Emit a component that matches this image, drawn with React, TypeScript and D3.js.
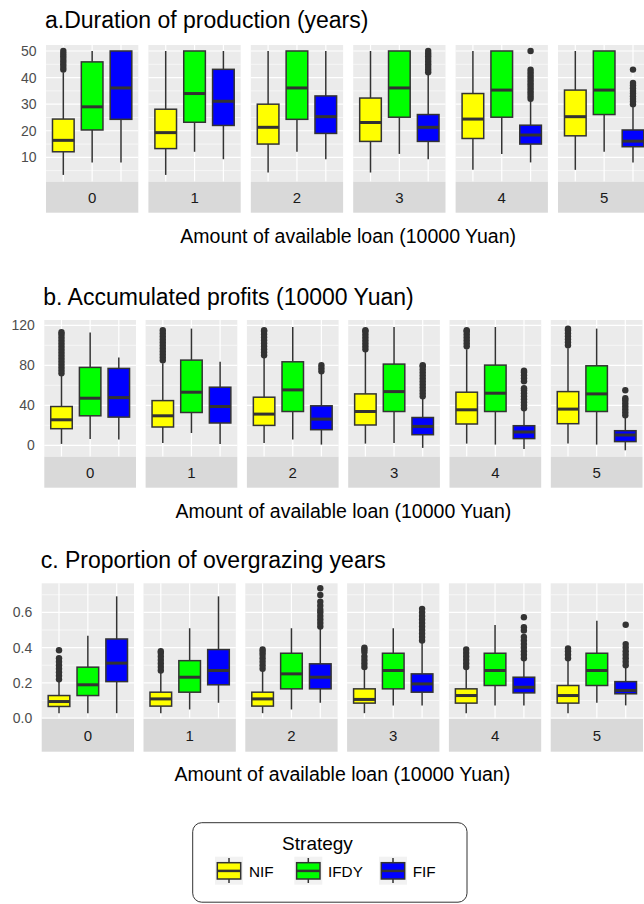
import React from 'react';
import * as d3 from 'd3';

// ---------------- data ----------------
const loans = ['0', '1', '2', '3', '4', '5'];
const strategies = ['NIF', 'IFDY', 'FIF'];
const strategyColors = ['#FFFF00', '#00FF00', '#0000FF'];

// each entry: [lower whisker, Q1, median, Q3, upper whisker]
const durationNIF = [
  [3.4, 12.1, 16.4, 24.4, 42], [3.4, 13.3, 19.3, 28.1, 50], [4.3, 15.0, 21.3, 30.0, 50],
  [4.3, 16.0, 23.1, 32.3, 50], [5.3, 17.1, 24.4, 34.0, 50], [5.3, 18.1, 25.3, 35.3, 50],
];
const durationIFDY = [
  [8.1, 20.3, 29.0, 45.9, 50], [12.1, 23.2, 34.0, 50, 50], [12.1, 24.3, 36.1, 50, 50],
  [11.3, 25.1, 36.1, 50, 50], [11.3, 25.1, 35.3, 50, 50], [12.1, 26.1, 35.3, 50, 50],
];
const durationFIF = [
  [8.1, 24.3, 36.1, 50, 50], [9.3, 22.0, 31.1, 43.1, 50], [9.3, 19.0, 25.3, 33.1, 50],
  [9.3, 16.0, 21.3, 26.1, 41], [8.1, 15.0, 18.4, 22.1, 31.5], [8.1, 14.0, 16.1, 20.3, 29],
];
const durationNIFOut = [[43, 44, 45, 46, 47, 48, 49, 50], [], [], [], [], []];
const durationIFDYOut = [[], [], [], [], [], []];
const durationFIFOut = [
  [], [], [],
  [42, 43, 44, 45, 46, 47, 48, 49, 50],
  [32, 33, 34, 35, 36, 37, 38, 39, 40, 41, 42, 43, 50],
  [30, 31, 32, 33, 34, 35, 36, 37, 38, 43],
];

const profitNIF = [
  [1.4, 16.6, 25.5, 38.8, 70], [2.4, 18.3, 29.5, 44.7, 82], [2.4, 19.9, 31.2, 48.1, 88],
  [1.7, 20.3, 33.8, 51.4, 94], [1.7, 21.3, 35.5, 53.1, 96], [1.7, 21.6, 36.2, 53.7, 97],
];
const profitIFDY = [
  [6.4, 29.5, 47.1, 77.9, 112.7], [12.3, 32.8, 53.1, 85.2, 116.7], [5.7, 33.8, 55.4, 83.5, 118.3],
  [2.4, 33.8, 53.7, 81.2, 118.3], [0.7, 33.8, 52.1, 80.2, 118.3], [0.7, 33.8, 51.4, 79.5, 116.7],
];
const profitFIF = [
  [5.7, 28.2, 47.7, 76.9, 87.9], [1.4, 22.3, 38.8, 58.1, 83.5], [0.7, 15.6, 26.2, 39.5, 72],
  [-2.6, 10.6, 18.9, 27.8, 47], [-3.6, 6.7, 13.3, 19.6, 35.5], [-5.0, 3.7, 10.3, 14.6, 28.8],
];
const profitNIFOut = [
  [72, 75, 78, 81, 84, 87, 90, 93, 96, 99, 102, 105, 108, 111, 113],
  [85, 88, 91, 94, 97, 100, 103, 106, 109, 112, 115],
  [90, 93, 96, 99, 102, 105, 108, 111, 114, 115],
  [96, 99, 102, 105, 108, 111, 114, 115],
  [99, 102, 105, 108, 111, 114, 115],
  [100, 103, 106, 109, 112, 115, 116.5],
];
const profitIFDYOut = [[], [], [], [], [], []];
const profitFIFOut = [
  [], [],
  [74, 77, 80],
  [49, 52, 55, 58, 61, 64, 67, 70, 73, 76, 79, 80],
  [37, 40, 43, 46, 49, 52, 55, 57, 64, 67, 70, 73, 74.5],
  [30, 33, 36, 39, 42, 45, 47, 55],
];

const propNIF = [
  [0.028, 0.066, 0.094, 0.128, 0.212], [0.028, 0.068, 0.109, 0.147, 0.26], [0.028, 0.068, 0.109, 0.147, 0.27],
  [0.028, 0.085, 0.106, 0.166, 0.285], [0.028, 0.085, 0.128, 0.166, 0.28], [0.028, 0.085, 0.128, 0.185, 0.33],
];
const propIFDY = [
  [0.028, 0.128, 0.189, 0.289, 0.468], [0.049, 0.147, 0.232, 0.326, 0.51], [0.049, 0.166, 0.251, 0.368, 0.51],
  [0.072, 0.166, 0.27, 0.368, 0.51], [0.072, 0.185, 0.27, 0.368, 0.529], [0.087, 0.185, 0.27, 0.368, 0.553],
];
const propFIF = [
  [0.028, 0.207, 0.312, 0.449, 0.691], [0.087, 0.189, 0.27, 0.389, 0.691], [0.087, 0.166, 0.232, 0.308, 0.516],
  [0.072, 0.147, 0.194, 0.251, 0.434], [0.072, 0.143, 0.175, 0.232, 0.336], [0.072, 0.138, 0.157, 0.207, 0.295],
];
const propNIFOut = [
  [0.22, 0.24, 0.26, 0.28, 0.30, 0.32, 0.34, 0.385],
  [0.27, 0.29, 0.31, 0.33, 0.35, 0.37, 0.38],
  [0.28, 0.30, 0.32, 0.34, 0.36, 0.375, 0.39],
  [0.29, 0.31, 0.33, 0.35, 0.375, 0.39, 0.40],
  [0.29, 0.31, 0.33, 0.35, 0.37, 0.39],
  [0.34, 0.36, 0.38, 0.395],
];
const propIFDYOut = [[], [], [], [], [], []];
const propFIFOut = [
  [], [],
  [0.52, 0.54, 0.56, 0.58, 0.60, 0.615, 0.638, 0.661, 0.699, 0.737],
  [0.44, 0.46, 0.48, 0.50, 0.52, 0.54, 0.56, 0.58, 0.60, 0.62],
  [0.34, 0.36, 0.38, 0.40, 0.42, 0.44, 0.46, 0.497, 0.516, 0.572],
  [0.30, 0.32, 0.34, 0.36, 0.38, 0.40, 0.42, 0.53],
];

const durationTicks = [10, 20, 30, 40, 50];
const profitTicks = [0, 40, 80, 120];
const propTicks = [0.0, 0.2, 0.4, 0.6];
const propTickLabels = ['0.0', '0.2', '0.4', '0.6'];

const titles = ['a.Duration of production (years)', 'b. Accumulated profits (10000 Yuan)', 'c. Proportion of overgrazing years'];
const xAxisTitle = 'Amount of available loan (10000 Yuan)';
const legendTitle = 'Strategy';

// ---------------- layout ----------------
const W = 644;
const H = 904;
const FONT = '"Liberation Sans", Arial, Helvetica, sans-serif';

type Row = {
  title: string;
  stats: number[][][];
  outs: number[][][];
  ticks: number[];
  tickLabels: string[];
  domain: [number, number];
  left: number; panelW: number; step: number;
  top: number; bottom: number; stripBottom: number;
  titleY: number; axisTitleY: number;
};

const rows: Row[] = [
  {
    title: titles[0], stats: [durationNIF, durationIFDY, durationFIF], outs: [durationNIFOut, durationIFDYOut, durationFIFOut],
    ticks: durationTicks, tickLabels: durationTicks.map(String), domain: [0.85, 52.25],
    left: 46, panelW: 92.3, step: 102.4, top: 45, bottom: 181.7, stripBottom: 212.7, titleY: 28, axisTitleY: 243,
  },
  {
    title: titles[1], stats: [profitNIF, profitIFDY, profitFIF], outs: [profitNIFOut, profitIFDYOut, profitFIFOut],
    ticks: profitTicks, tickLabels: profitTicks.map(String), domain: [-11.4, 125.3],
    left: 44.3, panelW: 91.7, step: 101.3, top: 320, bottom: 456.7, stripBottom: 487.7, titleY: 305, axisTitleY: 518,
  },
  {
    title: titles[2], stats: [propNIF, propIFDY, propFIF], outs: [propNIFOut, propIFDYOut, propFIFOut],
    ticks: propTicks, tickLabels: propTickLabels, domain: [-0.004, 0.765],
    left: 41.7, panelW: 92.3, step: 101.8, top: 583.3, bottom: 718.8, stripBottom: 751.7, titleY: 568, axisTitleY: 781,
  },
];

const DARK = '#333333';

function Facet({ row }: { row: Row }) {
  const y = d3.scaleLinear().domain(row.domain).range([row.bottom, row.top]);
  const tickStep = row.ticks[1] - row.ticks[0];
  const minor: number[] = [];
  for (let k = -1; k < row.ticks.length; k++) {
    const v = row.ticks[0] + (k + 0.5) * tickStep;
    if (v > row.domain[0] && v < row.domain[1]) minor.push(v);
  }
  const plotW = row.panelW;
  const axisTitleX = row.left + (5 * row.step + row.panelW) / 2;
  return (
    <g>
      <text x={row.left - 1} y={row.titleY} fontFamily={FONT} fontSize={23} fill="#000">{row.title}</text>
      {loans.map((loan, li) => {
        const x0 = row.left + li * row.step;
        const x = d3.scalePoint<string>().domain(strategies).range([x0, x0 + plotW]).padding(0.6);
        const bw = x.step() * 0.75;
        return (
          <g key={loan}>
            <rect x={x0} y={row.top} width={plotW} height={row.bottom - row.top} fill="#EBEBEB" />
            {minor.map((v) => (
              <line key={'m' + v} x1={x0} x2={x0 + plotW} y1={y(v)} y2={y(v)} stroke="#fff" strokeWidth={0.6} />
            ))}
            {row.ticks.filter((v) => v >= row.domain[0]).map((v) => (
              <line key={'M' + v} x1={x0} x2={x0 + plotW} y1={y(v)} y2={y(v)} stroke="#fff" strokeWidth={1.2} />
            ))}
            {strategies.map((s) => (
              <line key={'v' + s} x1={x(s)!} x2={x(s)!} y1={row.top} y2={row.bottom} stroke="#fff" strokeWidth={1.2} />
            ))}
            {strategies.map((s, si) => {
              const st = row.stats[si][li];
              const cx = x(s)!;
              const outs = row.outs[si][li];
              return (
                <g key={s}>
                  <line x1={cx} x2={cx} y1={y(st[0])} y2={y(st[1])} stroke={DARK} strokeWidth={1.5} />
                  <line x1={cx} x2={cx} y1={y(st[3])} y2={y(st[4])} stroke={DARK} strokeWidth={1.5} />
                  <rect x={cx - bw / 2} y={y(st[3])} width={bw} height={y(st[1]) - y(st[3])}
                    fill={strategyColors[si]} stroke={DARK} strokeWidth={1.5} />
                  <line x1={cx - bw / 2} x2={cx + bw / 2} y1={y(st[2])} y2={y(st[2])} stroke={DARK} strokeWidth={3} />
                  {outs.map((v, k) => (
                    <circle key={k} cx={cx} cy={y(v)} r={3.2} fill={DARK} />
                  ))}
                </g>
              );
            })}
            <rect x={x0} y={row.bottom} width={plotW} height={row.stripBottom - row.bottom} fill="#D9D9D9" />
            <text x={x0 + plotW / 2} y={(row.bottom + row.stripBottom) / 2} textAnchor="middle" dominantBaseline="central"
              fontFamily={FONT} fontSize={15} fill="#1A1A1A">{loan}</text>
          </g>
        );
      })}
      {row.ticks.map((v, k) => (
        <text key={'t' + v} x={row.left - 9.5} y={y(v)} textAnchor="end" dominantBaseline="central"
          fontFamily={FONT} fontSize={14} fill="#4D4D4D">{row.tickLabels[k]}</text>
      ))}
      <text x={axisTitleX} y={row.axisTitleY} textAnchor="middle" fontFamily={FONT} fontSize={19.5} fill="#000">{xAxisTitle}</text>
    </g>
  );
}

function Legend() {
  const keyX = [215, 294.3, 379];
  const labelX = [249, 328, 412.7];
  return (
    <g>
      <rect x={192.7} y={822.7} width={274.3} height={79.5} rx={9} ry={9} fill="#fff" stroke="#333" strokeWidth={1} />
      <text x={317.5} y={849.5} textAnchor="middle" fontFamily={FONT} fontSize={19} fill="#000">{legendTitle}</text>
      {strategies.map((s, i) => (
        <g key={s}>
          <rect x={keyX[i]} y={856.7} width={28} height={28} fill="#F2F2F2" />
          <line x1={keyX[i] + 14} x2={keyX[i] + 14} y1={858} y2={883} stroke={DARK} strokeWidth={1.5} />
          <rect x={keyX[i] + 2.3} y={862.7} width={23.4} height={16.3} fill={strategyColors[i]} stroke={DARK} strokeWidth={1.5} />
          <line x1={keyX[i] + 2.3} x2={keyX[i] + 25.7} y1={870.9} y2={870.9} stroke={DARK} strokeWidth={2.5} />
          <text x={labelX[i]} y={871} dominantBaseline="central" fontFamily={FONT} fontSize={15.3} fill="#000">{s}</text>
        </g>
      ))}
    </g>
  );
}

export default function App() {
  return (
    <svg width={W} height={H} viewBox={`0 0 ${W} ${H}`} style={{ position: 'absolute', left: 0, top: 0, background: '#fff' }}>
      <rect x={0} y={0} width={W} height={H} fill="#fff" />
      {rows.map((r, i) => <Facet key={i} row={r} />)}
      <Legend />
    </svg>
  );
}
